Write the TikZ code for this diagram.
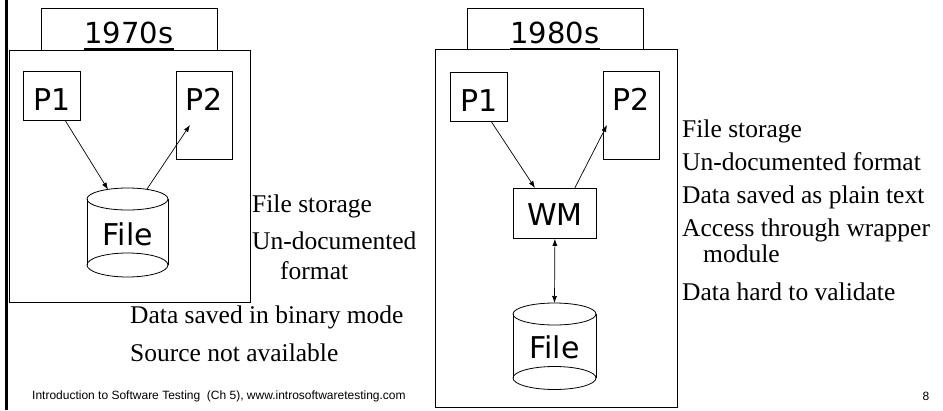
\documentclass[tikz,border=0pt]{standalone}
\usepackage{fontspec}
\setmainfont{Liberation Serif}
\newfontfamily\comicf{DejaVu Sans}
\newfontfamily\arialf{Liberation Sans}
\usetikzlibrary{arrows.meta}
\begin{document}
\begin{tikzpicture}[x=1pt,y=-1pt,
  frame/.style={draw, line width=0.8pt},
  pbox/.style={draw, line width=0.8pt, inner sep=0pt, anchor=north west, font=\comicf\fontsize{30}{32}\selectfont},
  title/.style={font=\comicf\fontsize{29}{31}\selectfont, inner sep=0pt, anchor=base},
  ftext/.style={font=\comicf\fontsize{30}{32}\selectfont, inner sep=0pt, anchor=base},
  note/.style={font=\fontsize{25.5}{28}\selectfont, anchor=base west, inner sep=0pt},
  small/.style={font=\arialf\fontsize{12}{14}\selectfont, inner sep=0pt},
  arr/.style={-{Latex[length=7pt,width=5pt]}, line width=0.7pt},
  barr/.style={{Latex[length=7pt,width=5pt]}-{Latex[length=7pt,width=5pt]}, line width=0.7pt}]
\useasboundingbox (0,0) rectangle (943,410);
\fill[white] (0,0) rectangle (943,410);
% left border
\draw[line width=3pt] (6.5,0) -- (6.5,410);
% ---------- 1970s ----------
\draw[frame] (41,8) rectangle (217,50);
\node[title] (t70) at (129,43) {1970s};
\draw[line width=2.5pt] ([yshift=-6pt]t70.base west) -- ([yshift=-6pt]t70.base east);
\draw[frame] (9,50) rectangle (250,302);
\node[pbox, minimum width=57, text height=39, text depth=10] (a1) at (23,71) {P1};
\node[pbox, minimum width=56, text height=39, text depth=49] (a2) at (176,71) {P2};
\draw[frame] (127.5,199) ellipse (40.5 and 11);
\draw[frame] (127.5,265) ellipse (40.5 and 12);
\draw[frame] (87,199) -- (87,265) (168,199) -- (168,265);
\node[ftext] (af) at (128,245) {File};
\coordinate (afin) at (108,189.5);
\coordinate (afout) at (147,189);
\coordinate (a2in) at (190,125);
\draw[arr] ([xshift=13.5pt]a1.south) -- (afin);
\draw[arr] (afout) -- (a2in);
\node[note] (l1) at (252,212) {File storage};
\node[note] (l2) at (252,249) {Un-documented};
\node[note] (l3) at (280,279) {format};
\node[note] (l4) at (130,323) {Data saved in binary mode};
\node[note] (l5) at (130,361) {Source not available};
\node[small, anchor=base west] (foot) at (32,399) {Introduction to Software Testing \ (Ch 5), www.introsoftwaretesting.com};
% ---------- 1980s ----------
\draw[frame] (467,8) rectangle (643,49);
\node[title] (t80) at (555,43) {1980s};
\draw[line width=2.5pt] ([yshift=-6pt]t80.base west) -- ([yshift=-6pt]t80.base east);
\draw[frame] (435,49) rectangle (677,407);
\node[pbox, minimum width=57, text height=39, text depth=10] (b1) at (450,72) {P1};
\node[pbox, minimum width=56, text height=39, text depth=49] (b2) at (603,71) {P2};
\node[pbox, minimum width=83, text height=37, text depth=13] (wm) at (513,188) {WM};
\draw[frame] (554.5,314) ellipse (41.5 and 11);
\draw[frame] (554.5,378) ellipse (41.5 and 11.5);
\draw[frame] (513,314) -- (513,378) (596,314) -- (596,378);
\node[ftext] (bf) at (554.5,358) {File};
\coordinate (bftop) at (554.5,303);
\coordinate (b2in) at (607,125);
\draw[arr] ([xshift=12.5pt]b1.south) -- ([xshift=22pt]wm.north west);
\draw[arr] ([xshift=-22pt]wm.north east) -- (b2in);
\draw[barr] (wm.south) -- (bftop);
\node[note] (r1) at (682,137) {File storage};
\node[note] (r2) at (682,170) {Un-documented format};
\node[note] (r3) at (682,203) {Data saved as plain text};
\node[note] (r4) at (682,236) {Access through wrapper};
\node[note] (r5) at (703,262) {module};
\node[note] (r6) at (682,300) {Data hard to validate};
\node[small, anchor=base] (pg) at (926,400) {8};
\end{tikzpicture}
\end{document}
